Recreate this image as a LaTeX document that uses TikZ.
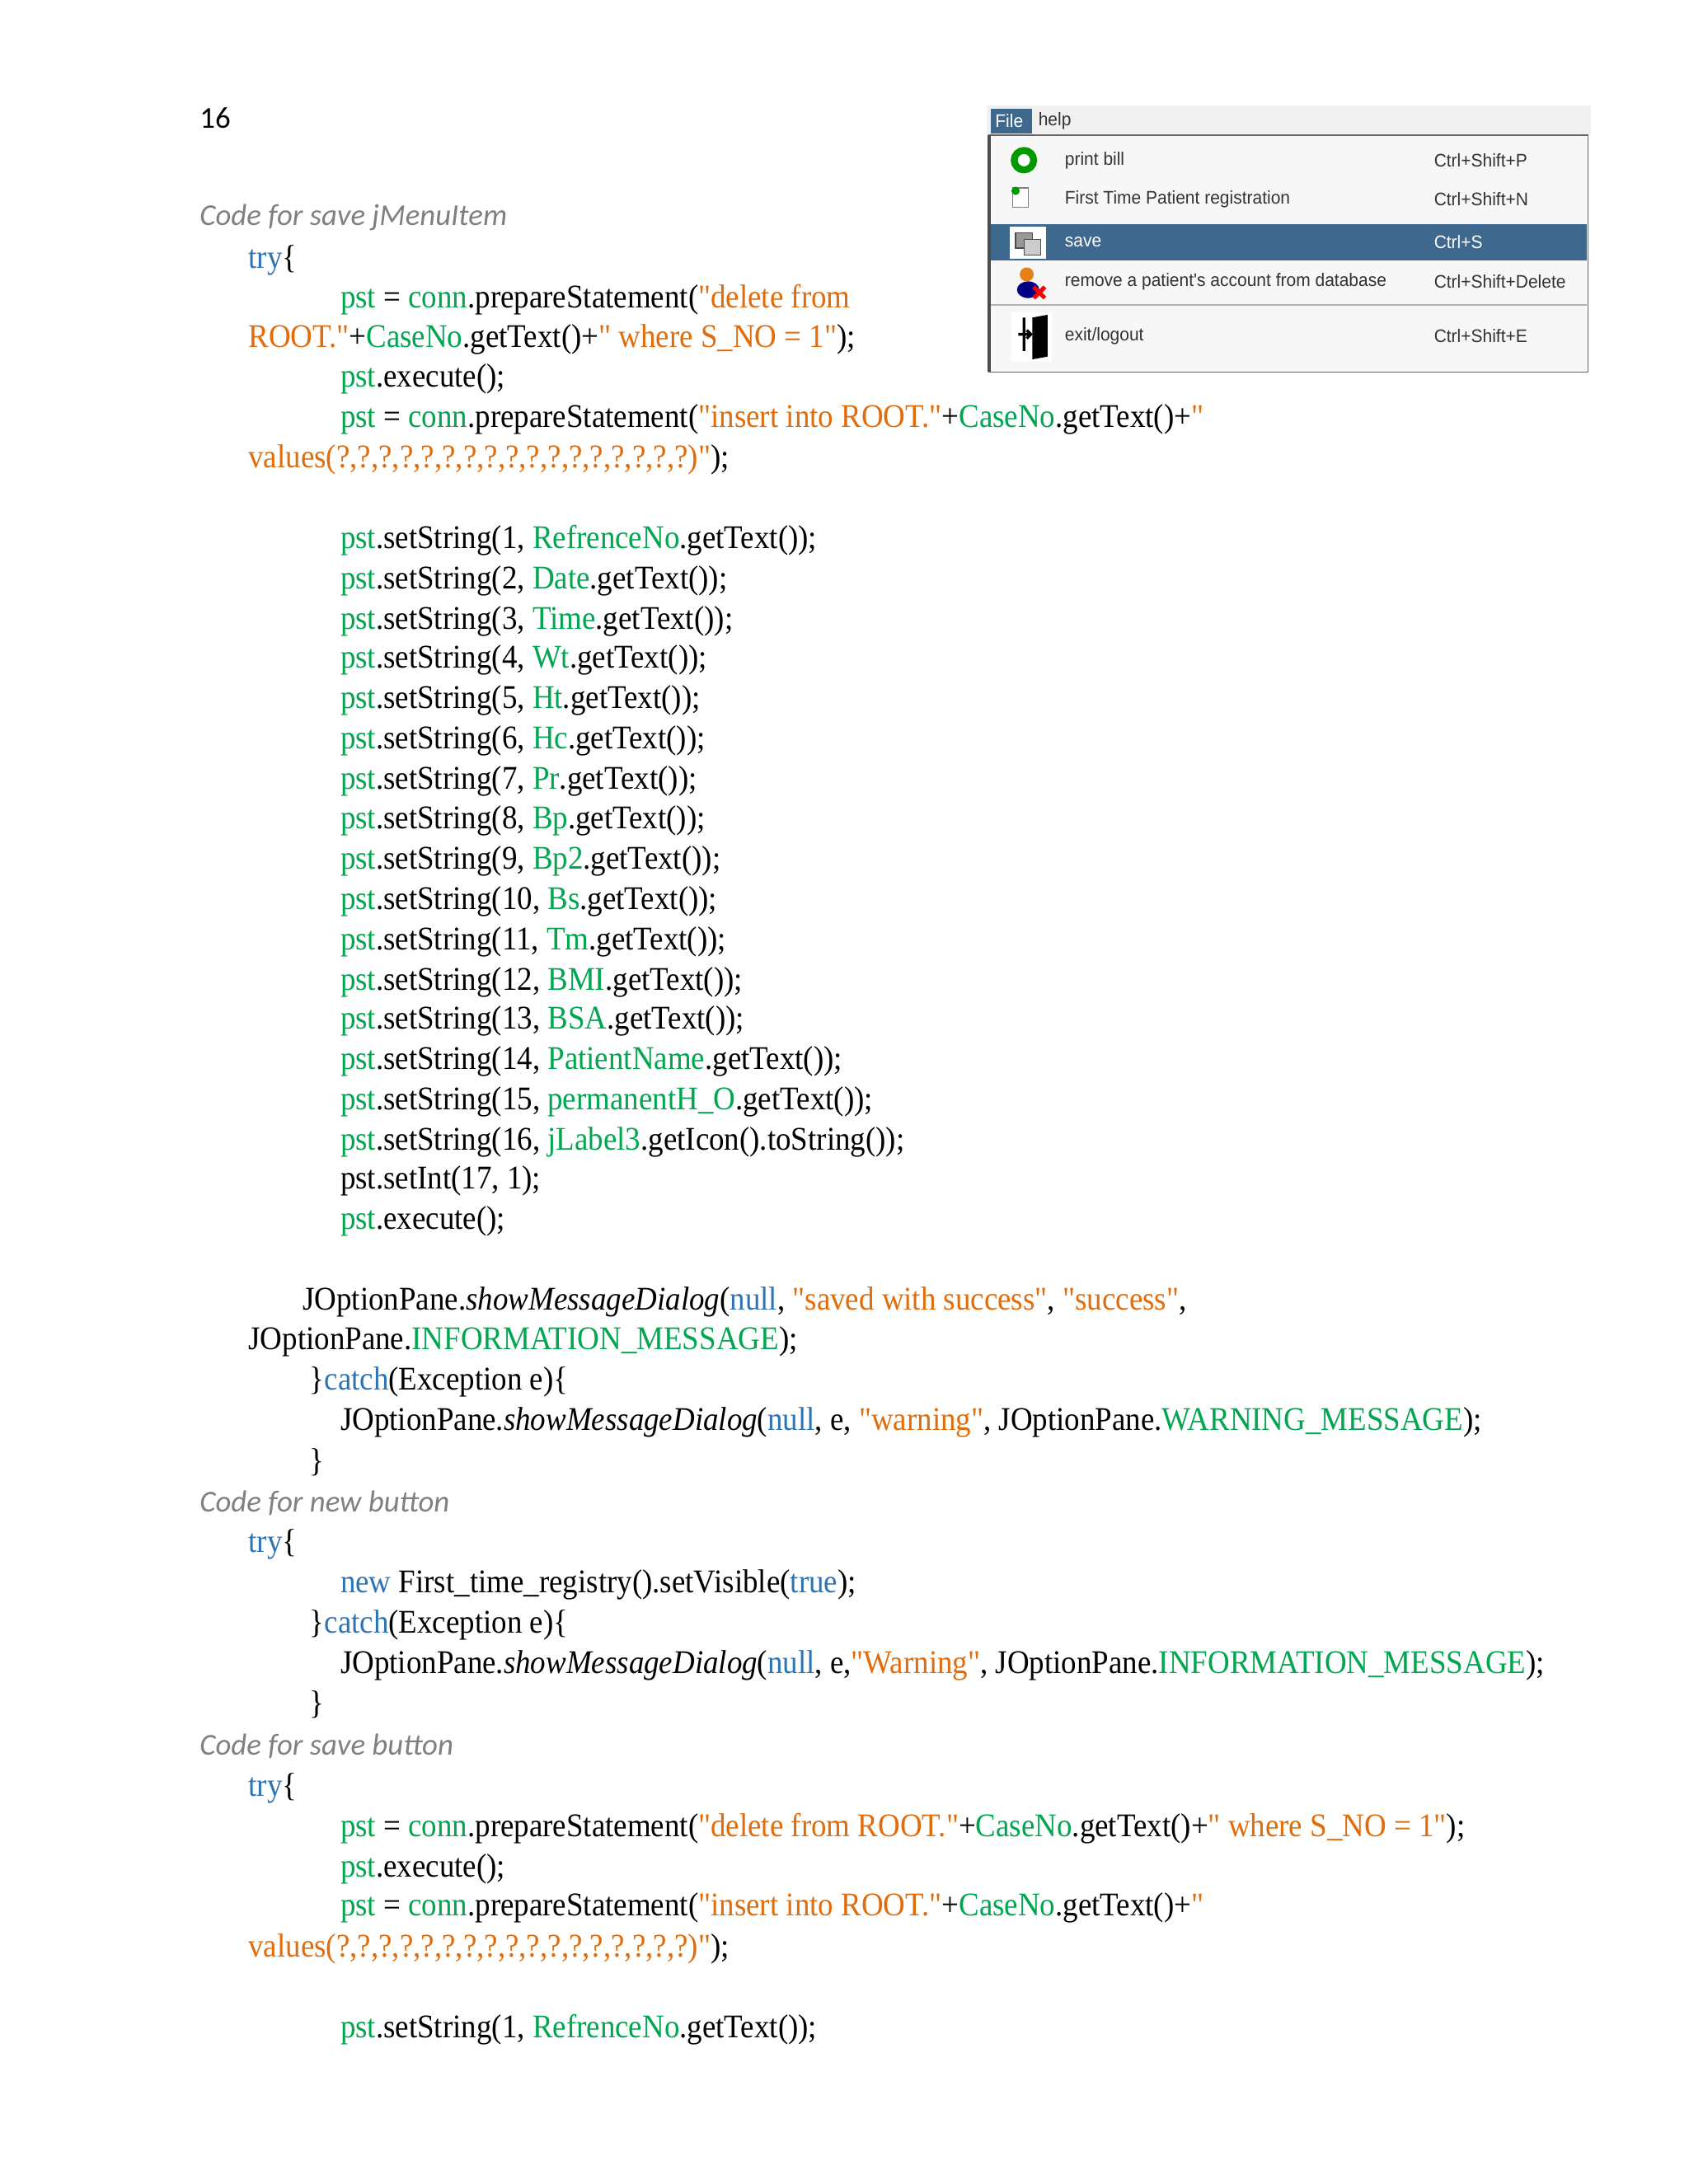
\documentclass[tikz,border=0pt]{standalone}
\usepackage{fontspec}
\setmainfont{Liberation Serif}[Ligatures=TeXOff,FakeStretch=0.92]
\newfontfamily\calfont{Carlito}
\newfontfamily\uifont{Liberation Sans}[Ligatures=TeXOff,FakeStretch=0.95]
\definecolor{cg}{RGB}{0,166,80}
\definecolor{co}{RGB}{226,108,10}
\definecolor{cb}{RGB}{46,116,181}
\definecolor{cgr}{RGB}{128,128,128}
\definecolor{hl}{RGB}{62,104,142}
\newcommand{\G}[1]{\textcolor{cg}{#1}}
\newcommand{\Or}[1]{\textcolor{co}{#1}}
\newcommand{\B}[1]{\textcolor{cb}{#1}}
\newcounter{ln}
\newcommand{\Ln}[3]{\stepcounter{ln}\node[code] (n\theln) at (#1,#2) {#3};}
\newcommand{\Hd}[2]{\stepcounter{ln}\node[head] (n\theln) at (143,#1) {#2};}
\newcommand{\sst}[3]{\Ln{244}{#1}{\G{pst}.setString(#2, \G{#3}.getText());}}
\begin{document}
\begin{tikzpicture}[x=0.505pt,y=-0.505pt,
 code/.style={anchor=west,inner sep=0pt,font=\fontsize{12}{14}\selectfont},
 head/.style={anchor=west,inner sep=0pt,font=\calfont\itshape\fontsize{11}{13}\selectfont,text=cgr},
 mi/.style={anchor=west,inner sep=0pt,font=\uifont\fontsize{6.6}{7}\selectfont,text=black!80}]
\useasboundingbox[fill=white] (0,0) rectangle (1212,1568);
\node[anchor=west,inner sep=0pt,font=\calfont\fontsize{11}{13}\selectfont] (pg) at (143,85) {16};
% menu
\fill[black!6] (708,76) rectangle (1142,97);
\fill[hl] (711,78) rectangle (741,96);
\node[mi,text=white] (mfile) at (714,87) {File};
\node[mi] (mhelp) at (745,87) {help};
\draw[black!60,fill=black!3] (710,97) rectangle (1140,267);
\fill[hl] (711,161) rectangle (1139,187);
\draw[black!30] (711,219) -- (1139,219);
\draw[black!70,line width=1pt] (710,97) -- (710,267);
\node[mi] (m1) at (764,115) {print bill};
\node[mi] (s1) at (1029,115) {Ctrl+Shift+P};
\node[mi] (m2) at (764,143) {First Time Patient registration};
\node[mi] (s2) at (1029,143) {Ctrl+Shift+N};
\node[mi,text=white] (m3) at (764,174) {save};
\node[mi,text=white] (s3) at (1029,174) {Ctrl+S};
\node[mi] (m4) at (764,202) {remove a patient's account from database};
\node[mi] (s4) at (1029,202) {Ctrl+Shift+Delete};
\node[mi] (m5) at (764,241) {exit/logout};
\node[mi] (s5) at (1029,241) {Ctrl+Shift+E};
% icons
\draw[green!60!black,line width=2.5pt,fill=white] (735,115) circle (7);
\draw[black!50,fill=white] (727,135) rectangle (738,149);
\fill[green!60!black] (729,137) circle (3);
\fill[white] (725,163) rectangle (751,186);
\draw[black!70,fill=black!40] (729,167) rectangle (741,178);
\draw[black!70,fill=black!20] (735,172) rectangle (747,183);
\fill[blue!50!black] (738,208) ellipse (8 and 6);
\fill[orange!60!brown] (737,197) circle (5);
\draw[red,line width=1.5pt] (742,206) -- (750,214) (750,206) -- (742,214);
\fill[white] (726,224) rectangle (755,260);
\fill[black] (741,228) -- (752,226) -- (752,256) -- (741,258) -- cycle;
\draw[black,line width=1pt] (731,240) -- (740,240) (737,237) -- (740,240) -- (737,243) (735,228) -- (735,252);
% code
\Hd{156}{Code for save jMenuItem}
\Ln{178}{187}{\B{try}\{}
\Ln{244}{215}{\G{pst} = \G{conn}.prepareStatement(\Or{"delete from}}
\Ln{178}{244}{\Or{ROOT."}+\G{CaseNo}.getText()+\Or{" where S\_NO = 1"});}
\Ln{244}{272}{\G{pst}.execute();}
\Ln{244}{301}{\G{pst} = \G{conn}.prepareStatement(\Or{"insert into ROOT."}+\G{CaseNo}.getText()+\Or{"}}
\Ln{178}{330}{\Or{values(?,?,?,?,?,?,?,?,?,?,?,?,?,?,?,?,?)"});}
\sst{388}{1}{RefrenceNo}
\sst{417}{2}{Date}
\sst{446}{3}{Time}
\sst{474}{4}{Wt}
\sst{503}{5}{Ht}
\sst{532}{6}{Hc}
\sst{561}{7}{Pr}
\sst{589}{8}{Bp}
\sst{618}{9}{Bp2}
\sst{647}{10}{Bs}
\sst{676}{11}{Tm}
\sst{705}{12}{BMI}
\sst{733}{13}{BSA}
\sst{762}{14}{PatientName}
\sst{791}{15}{permanentH\_O}
\Ln{244}{820}{\G{pst}.setString(16, \G{jLabel3}.getIcon().toString());}
\Ln{244}{848}{pst.setInt(17, 1);}
\Ln{244}{877}{\G{pst}.execute();}
\Ln{217}{935}{JOptionPane.\textit{showMessageDialog}(\B{null}, \Or{"saved with success"}, \Or{"success"},}
\Ln{178}{963}{JOptionPane.\G{INFORMATION\_MESSAGE});}
\Ln{222}{992}{\}\B{catch}(Exception e)\{}
\Ln{244}{1021}{JOptionPane.\textit{showMessageDialog}(\B{null}, e, \Or{"warning"}, JOptionPane.\G{WARNING\_MESSAGE});}
\Ln{222}{1050}{\}}
\Hd{1079}{Code for new button}
\Ln{178}{1109}{\B{try}\{}
\Ln{244}{1138}{\B{new} First\_time\_registry().setVisible(\B{true});}
\Ln{222}{1167}{\}\B{catch}(Exception e)\{}
\Ln{244}{1196}{JOptionPane.\textit{showMessageDialog}(\B{null}, e,\Or{"Warning"}, JOptionPane.\G{INFORMATION\_MESSAGE});}
\Ln{222}{1224}{\}}
\Hd{1254}{Code for save button}
\Ln{178}{1284}{\B{try}\{}
\Ln{244}{1313}{\G{pst} = \G{conn}.prepareStatement(\Or{"delete from ROOT."}+\G{CaseNo}.getText()+\Or{" where S\_NO = 1"});}
\Ln{244}{1342}{\G{pst}.execute();}
\Ln{244}{1370}{\G{pst} = \G{conn}.prepareStatement(\Or{"insert into ROOT."}+\G{CaseNo}.getText()+\Or{"}}
\Ln{178}{1399}{\Or{values(?,?,?,?,?,?,?,?,?,?,?,?,?,?,?,?,?)"});}
\sst{1457}{1}{RefrenceNo}
\end{tikzpicture}
\end{document}
